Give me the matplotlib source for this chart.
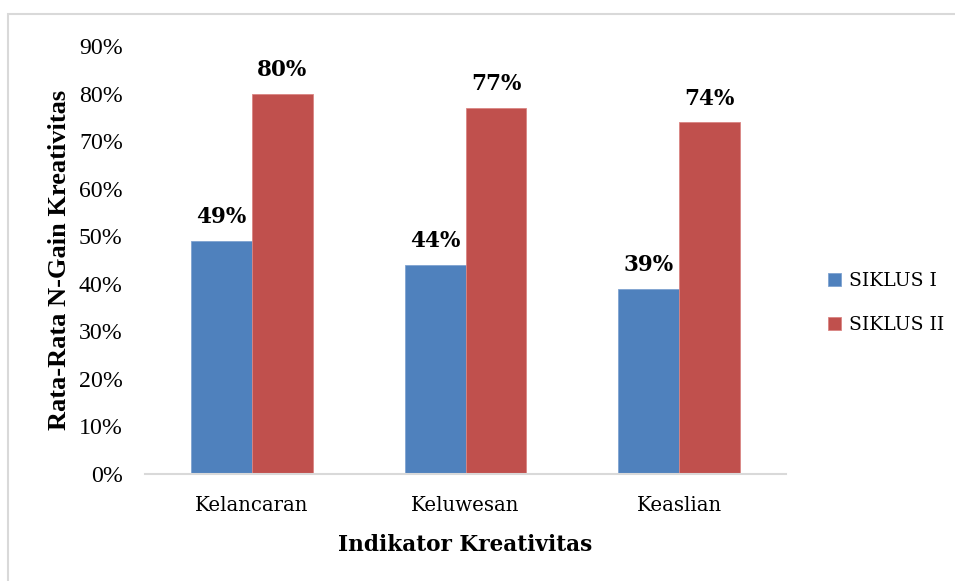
import matplotlib
matplotlib.use("Agg")
import matplotlib.pyplot as plt
import numpy as np
from matplotlib.patches import Rectangle
from matplotlib.ticker import FuncFormatter

categories = ["Kelancaran", "Keluwesan", "Keaslian"]
siklus1 = [49, 44, 39]
siklus2 = [80, 77, 74]
series_names = ["SIKLUS I", "SIKLUS II"]
yticks = [0, 10, 20, 30, 40, 50, 60, 70, 80, 90]

blue = "#4F81BD"
red = "#C0504D"

fig = plt.figure(figsize=(9.55, 5.81), dpi=100)
fig.patches.append(Rectangle((8/955, -0.1), 1.1, 1 - 14/581 + 0.1, transform=fig.transFigure,
                             fill=False, edgecolor="#D9D9D9", linewidth=1.5, zorder=0))
ax = fig.add_axes([145/955, 1 - 474/581, (786-145)/955, (474-46)/581])

x = np.arange(len(categories))
w = 0.285
b1 = ax.bar(x - w/2, siklus1, w, color=blue, edgecolor="#7FA3D1", linewidth=0.6, label=series_names[0])
b2 = ax.bar(x + w/2, siklus2, w, color=red, edgecolor="#DA8583", linewidth=0.6, label=series_names[1])

serif2 = "DejaVu Serif"
for bars, vals in ((b1, siklus1), (b2, siklus2)):
    for r, v in zip(bars, vals):
        ax.annotate(f"{v}%", (r.get_x() + r.get_width()/2, v), xytext=(0, 9),
                    textcoords="offset points", ha="center", va="bottom",
                    fontsize=15.5, fontweight="bold", family=serif2)

ax.set_xlim(-0.5, 2.5)
ax.set_ylim(0, 90)
ax.set_yticks(yticks)
ax.yaxis.set_major_formatter(FuncFormatter(lambda v, p: f"{int(v)}%"))
ax.set_xticks(x)
ax.set_xticklabels(categories, family=serif2, fontsize=14.2)
for lab in ax.get_yticklabels():
    lab.set_family("Liberation Serif")
    lab.set_fontsize(17.2)
ax.tick_params(axis="y", length=0, pad=16)
ax.tick_params(axis="x", length=0, pad=16)
for s in ("top", "right", "left"):
    ax.spines[s].set_visible(False)
ax.spines["bottom"].set_color("#D9D9D9")
ax.spines["bottom"].set_linewidth(1.5)

ax.set_ylabel("Rata-Rata N-Gain Kreativitas", family="Liberation Serif", fontsize=19,
              fontweight="bold", labelpad=6)
ax.set_xlabel("Indikator Kreativitas", family=serif2, fontsize=15.6, fontweight="bold", labelpad=13.5)

leg = fig.legend(handles=[b1, b2], labels=series_names, loc="upper left",
                 bbox_to_anchor=(811/955, 1 - 255/581), frameon=False,
                 prop={"family": serif2, "size": 13.5}, handlelength=0.7, handleheight=0.7,
                 handletextpad=0.45, labelspacing=1.4)

fig.savefig("out.png", dpi=100)
